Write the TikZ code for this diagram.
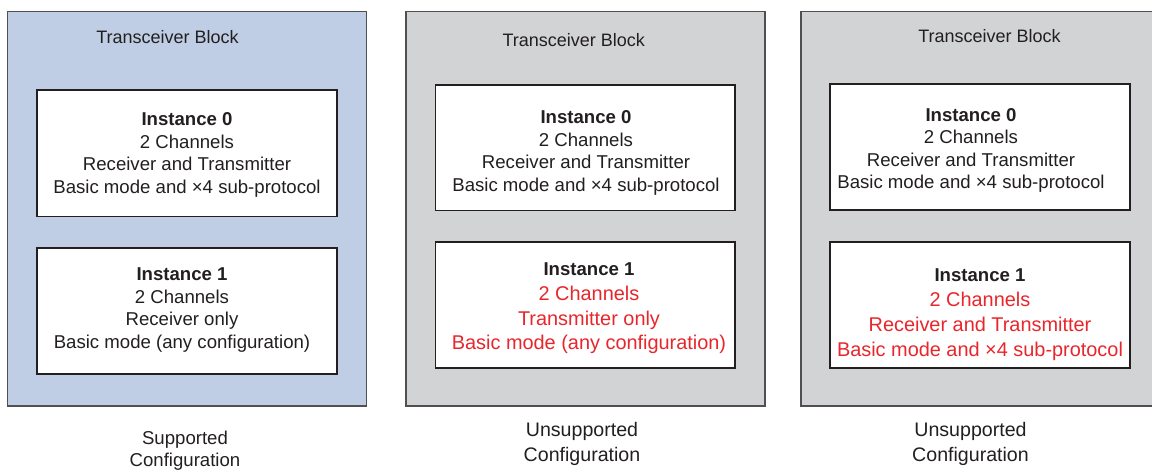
\documentclass[tikz,border=0pt]{standalone}
\usepackage{fontspec}
\setmainfont{Liberation Sans}
\definecolor{ink}{RGB}{35,31,32}
\definecolor{redc}{RGB}{232,38,44}
\definecolor{blueF}{RGB}{191,206,228}
\definecolor{grayF}{RGB}{209,211,212}
\definecolor{edge}{RGB}{80,80,82}
\begin{document}
\begin{tikzpicture}[x=1pt,y=-1pt,
  outerblk/.style={draw=edge, line width=1.4pt, inner sep=0pt, outer sep=0pt, anchor=north west, minimum width=359pt, minimum height=394.5pt},
  instbox/.style={draw=ink, fill=white, line width=1.1pt, inner sep=0pt, outer sep=0pt, anchor=north west, minimum width=300pt, minimum height=126.5pt},
  txt/.style={anchor=base, inner sep=0pt, text=ink, font=\fontsize{18.6pt}{22pt}\selectfont},
  bld/.style={anchor=base, inner sep=0pt, text=ink, font=\fontsize{18.6pt}{22pt}\selectfont\bfseries},
  redt/.style={anchor=base, inner sep=0pt, text=redc, font=\fontsize{19.9pt}{24pt}\selectfont},
  ttl/.style={anchor=base, inner sep=0pt, text=ink, font=\fontsize{18pt}{22pt}\selectfont},
  captxt/.style={anchor=base, inner sep=0pt, text=ink, font=\fontsize{19.6pt}{24pt}\selectfont}]
\useasboundingbox (0,0) rectangle (1152,470);

% outer blocks
\node[outerblk, fill=blueF] (bL) at (7.5,11.5) {};
\node[outerblk, fill=grayF] (bM) at (406,11.5) {};
\node[outerblk, fill=grayF] (bR) at (801,11.5) {};

% titles
\node[ttl] (tL) at (167.5,43.3) {Transceiver Block};
\node[ttl] (tM) at (573.8,46.7) {Transceiver Block};
\node[ttl] (tR) at (989.5,42.3) {Transceiver Block};

% instance boxes
\node[instbox, minimum height=126.5pt] (L0) at (37,90) {};
\node[instbox, minimum height=126pt] (L1) at (37,248) {};
\node[instbox, minimum width=299.5pt, minimum height=125.5pt] (M0) at (435.5,85) {};
\node[instbox, minimum width=299.5pt, minimum height=126pt] (M1) at (435.5,242) {};
\node[instbox, minimum height=126pt] (R0) at (830,84) {};
\node[instbox, minimum height=126pt] (R1) at (830,242) {};

% left block text
\node[bld] (L0a) at (187,125.7) {Instance 0};
\node[txt] (L0b) at (187,148.2) {2 Channels};
\node[txt] (L0c) at (187,170.7) {Receiver and Transmitter};
\node[txt] (L0d) at (187,193.2) {Basic mode and ×4 sub-protocol};
\node[bld] (L1a) at (182,280.7) {Instance 1};
\node[txt] (L1b) at (182,303.2) {2 Channels};
\node[txt] (L1c) at (182,325.7) {Receiver only};
\node[txt] (L1d) at (182,348.2) {Basic mode (any configuration)};

% middle block text
\node[bld] (M0a) at (586,124) {Instance 0};
\node[txt] (M0b) at (586,146.5) {2 Channels};
\node[txt] (M0c) at (586,169) {Receiver and Transmitter};
\node[txt] (M0d) at (586,191.5) {Basic mode and ×4 sub-protocol};
\node[bld] (M1a) at (589,275.7) {Instance 1};
\node[redt] (M1b) at (589,300.5) {2 Channels};
\node[redt] (M1c) at (589,325.3) {Transmitter only};
\node[redt] (M1d) at (589,350) {Basic mode (any configuration)};

% right block text
\node[bld] (R0a) at (971,121.7) {Instance 0};
\node[txt] (R0b) at (971,144) {2 Channels};
\node[txt] (R0c) at (971,166.3) {Receiver and Transmitter};
\node[txt] (R0d) at (971,188.5) {Basic mode and ×4 sub-protocol};
\node[bld] (R1a) at (980,281.7) {Instance 1};
\node[redt] (R1b) at (980,306.7) {2 Channels};
\node[redt] (R1c) at (980,331.7) {Receiver and Transmitter};
\node[redt] (R1d) at (980,356.7) {Basic mode and ×4 sub-protocol};

% captions
\node[txt] (cL1) at (185,444) {Supported};
\node[txt] (cL2) at (185,466) {Configuration};
\node[captxt] (cM1) at (582,436) {Unsupported};
\node[captxt] (cM2) at (582,461) {Configuration};
\node[captxt] (cR1) at (970.5,436.7) {Unsupported};
\node[captxt] (cR2) at (970.5,461.7) {Configuration};
\end{tikzpicture}
\end{document}
